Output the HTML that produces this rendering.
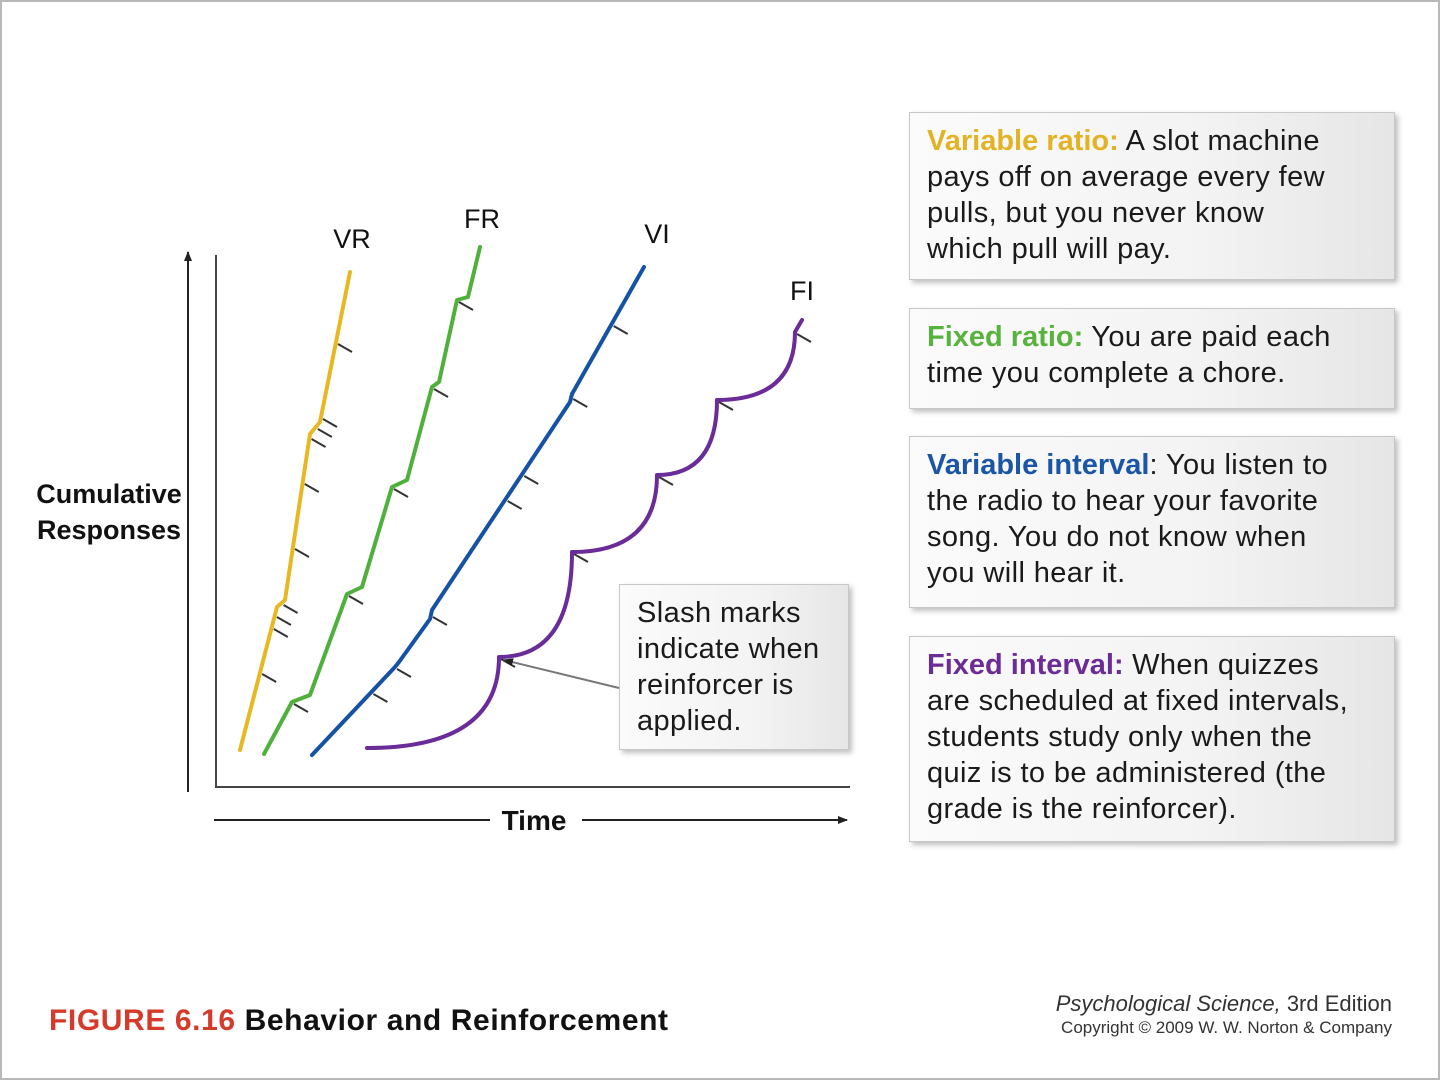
<!DOCTYPE html>
<html><head><meta charset="utf-8"><style>
html,body{margin:0;padding:0;background:#fff}
#page{position:relative;width:1440px;height:1080px;overflow:hidden;font-family:"Liberation Sans",Arial,sans-serif;background:#fff;box-sizing:border-box;border:2px solid #b8b8b8}
.box{position:absolute;box-sizing:border-box;border:1px solid #c8c8c8;background:linear-gradient(90deg,#fbfbfb 0%,#f3f3f3 60%,#e6e6e6 100%);box-shadow:3px 3px 5px rgba(0,0,0,0.25);font-size:29px;line-height:36px;color:#1a1a1a;padding:10px 0 0 17px;letter-spacing:0.4px;white-space:nowrap}
.box b{font-weight:bold;letter-spacing:0}
</style></head><body>
<div id="page">
<svg id="chart" width="1440" height="1080" style="position:absolute;left:0;top:0" xmlns="http://www.w3.org/2000/svg">
<defs><marker id="ah" markerWidth="10" markerHeight="10" refX="9" refY="5" orient="auto" markerUnits="userSpaceOnUse"><path d="M0,1 L10,5 L0,9 Z" fill="#222"/></marker></defs>
<g id="axes"></g><g id="series"></g><g id="labels"></g>
</svg>

<div class="box" style="left:907px;top:110px;width:486px;height:168px"><b style="color:#e2b324">Variable ratio:</b> A slot machine<br>pays off on average every few<br>pulls, but you never know<br>which pull will pay.</div>
<div class="box" style="left:907px;top:306px;width:486px;height:101px"><b style="color:#58b23e">Fixed ratio:</b> You are paid each<br>time you complete a chore.</div>
<div class="box" style="left:907px;top:434px;width:486px;height:172px"><b style="color:#1b55a6">Variable interval</b>: You listen to<br>the radio to hear your favorite<br>song. You do not know when<br>you will hear it.</div>
<div class="box" style="left:907px;top:634px;width:486px;height:206px"><b style="color:#6b2d95">Fixed interval:</b> When quizzes<br>are scheduled at fixed intervals,<br>students study only when the<br>quiz is to be administered (the<br>grade is the reinforcer).</div>
<div class="box" style="left:617px;top:582px;width:230px;height:166px;padding-top:10px">Slash marks<br>indicate when<br>reinforcer is<br>applied.</div>

<div style="position:absolute;left:47px;top:1002px;font-size:30px;font-weight:bold;color:#111;white-space:nowrap;letter-spacing:0.6px"><span style="color:#d63a2a">FIGURE 6.16</span> Behavior and Reinforcement</div>
<div style="position:absolute;right:46px;top:989px;text-align:right;color:#333;white-space:nowrap"><div style="font-size:22px;font-style:italic;letter-spacing:0px">Psychological Science, <span style="font-style:normal">3rd Edition</span></div><div style="font-size:17px;letter-spacing:0px;margin-top:1px">Copyright © 2009 W. W. Norton &amp; Company</div></div>
</div>
<script>
// data (time units, response units)
const vrTime = [23, 60, 68, 93, 103, 133];
const vrResp = [37, 180, 187, 353, 365, 515];
const vrSlashes = [115, 160, 172, 184, 240, 305, 350, 360, 370, 445];
const frTime = [47, 75, 93, 130, 145, 175, 190, 215, 222, 240, 251, 263];
const frResp = [33, 85, 92, 193, 200, 300, 307, 400, 405, 487, 490, 540];
const frSlashes = [85, 193, 300, 400, 487];
const viTime = [95, 178, 182, 213, 215, 353, 355, 427];
const viResp = [32, 120, 125, 168, 177, 385, 393, 520];
const viSlashes = [95, 120, 172, 288, 313, 390, 463];
const fiTime = [150, 282, 355, 440, 500, 578, 585];
const fiResp = [39, 130, 235, 312, 387, 455, 467];
const fiSlashes = [130, 235, 312, 387, 455];
const seriesNames = ["VR", "FR", "VI", "FI"];

const NS = "http://www.w3.org/2000/svg";
const X = t => 215 + t;   // time axis
const Y = r => 785 - r;   // response axis
function mk(tag, attrs, parent){const e=document.createElementNS(NS,tag);for(const k in attrs)e.setAttribute(k,attrs[k]);parent.appendChild(e);return e;}
const axes=document.getElementById('axes'), ser=document.getElementById('series'), lab=document.getElementById('labels');

let a=mk('line',{x1:214,y1:253,x2:214,y2:786,stroke:'#444','stroke-width':2},axes);


a=mk('line',{x1:213,y1:785,x2:848,y2:785,stroke:'#444','stroke-width':2},axes);


a=mk('line',{x1:186,y1:790,x2:186,y2:250,stroke:'#222','stroke-width':2,'marker-end':'url(#ah)'},axes);


a=mk('line',{x1:212,y1:818,x2:488,y2:818,stroke:'#222','stroke-width':2},axes);


a=mk('line',{x1:580,y1:818,x2:845,y2:818,stroke:'#222','stroke-width':2,'marker-end':'url(#ah)'},axes);



function txt(s,x,y,size,weight,anchor,name){const t=mk('text',{x:x,y:y,'font-size':size,'font-weight':weight,'text-anchor':anchor,fill:'#111','font-family':'Liberation Sans, Arial, sans-serif'},lab);t.textContent=s;


return t;}
txt('Time',532,828,28,'bold','middle','x-axis-title');
txt('Cumulative',107,501,27,'bold','middle','y-axis-title-line1');
txt('Responses',107,537,27,'bold','middle','y-axis-title-line2');

function interpX(ts,rs,r){for(let i=0;i<rs.length-1;i++){if(r>=rs[i]&&r<=rs[i+1]){const f=(r-rs[i])/((rs[i+1]-rs[i])||1);return ts[i]+f*(ts[i+1]-ts[i]);}}return ts[ts.length-1];}
function slashes(ts,rs,list,name){list.forEach(r=>{const t=interpX(ts,rs,r);const x=X(t),y=Y(r);
const l=mk('line',{x1:x+2,y1:y+2,x2:x+16,y2:y+10,stroke:'#333','stroke-width':2},ser);

});}
function poly(ts,rs,color,name){let d='M'+X(ts[0])+','+Y(rs[0]);for(let i=1;i<ts.length;i++)d+=' L'+X(ts[i])+','+Y(rs[i]);
const p=mk('path',{d:d,fill:'none',stroke:color,'stroke-width':4,'stroke-linejoin':'round','stroke-linecap':'round'},ser);

}

slashes(vrTime,vrResp,vrSlashes,'vr');
poly(vrTime,vrResp,'#e8b824','vr-line');
slashes(frTime,frResp,frSlashes,'fr');
poly(frTime,frResp,'#4fb03b','fr-line');
slashes(viTime,viResp,viSlashes,'vi');
poly(viTime,viResp,'#1552a6','vi-line');
slashes(fiTime,fiResp,fiSlashes.slice(),'fi');
// FI scallops
let d='M'+X(fiTime[0])+','+Y(fiResp[0]);
for(let i=1;i<fiTime.length-1;i++){d+=' Q'+X(fiTime[i])+','+Y(fiResp[i-1])+' '+X(fiTime[i])+','+Y(fiResp[i]);}
d+=' L'+X(fiTime[fiTime.length-1])+','+Y(fiResp[fiResp.length-1]);
const fp=mk('path',{d:d,fill:'none',stroke:'#6a2c98','stroke-width':4,'stroke-linejoin':'round','stroke-linecap':'round'},ser);



// callout pointer
const cp=mk('line',{x1:617,y1:686,x2:502,y2:658,stroke:'#777','stroke-width':2,'marker-end':'url(#ah)'},ser);



const labelPos=[[350,246],[480,226],[655,241],[800,298]];
seriesNames.forEach((n,i)=>{txt(n,labelPos[i][0],labelPos[i][1],27,'normal','middle','label-'+n.toLowerCase());});
</script>
</body></html>
